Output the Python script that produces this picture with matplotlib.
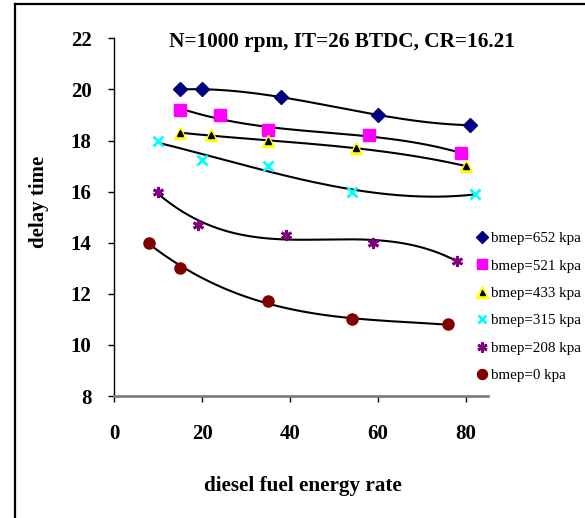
import numpy as np
import matplotlib
matplotlib.use('Agg')
import matplotlib.pyplot as plt
from matplotlib.lines import Line2D

plt.rcParams['font.family'] = ['Liberation Serif', 'DejaVu Serif']

# data
x652 = [15, 20, 38, 60, 81]
y652 = [20.0, 20.0, 19.7, 19.0, 18.6]
x521 = [15, 24, 35, 58, 79]
y521 = [19.2, 19.0, 18.4, 18.2, 17.5]
x433 = [15, 22, 35, 55, 80]
y433 = [18.3, 18.2, 18.0, 17.7, 17.0]
x315 = [10, 20, 35, 54, 82]
y315 = [18.0, 17.25, 17.0, 16.0, 15.9]
x208 = [10, 19, 39, 59, 78]
y208 = [16.0, 14.7, 14.3, 14.0, 13.3]
x0 = [8, 15, 35, 54, 76]
y0 = [14.0, 13.0, 11.7, 11.0, 10.8]

labels = ['bmep=652 kpa', 'bmep=521 kpa', 'bmep=433 kpa',
          'bmep=315 kpa', 'bmep=208 kpa', 'bmep=0 kpa']
xticks = [0, 20, 40, 60, 80]
yticks = [8, 10, 12, 14, 16, 18, 20, 22]

W, H = 585, 518
fig = plt.figure(figsize=(W / 100, H / 100), dpi=100)
ax = fig.add_axes([114.3 / W, 1 - 396 / H, (487.7 - 114.3) / W, (396 - 38.3) / H])

series = [(x652, y652), (x521, y521), (x433, y433), (x315, y315), (x208, y208), (x0, y0)]

# cubic trendlines like excel
for xs, ys in series:
    c = np.polyfit(xs, ys, 3)
    xx = np.linspace(min(xs), max(xs), 200)
    ax.plot(xx, np.polyval(c, xx), color='black', lw=1.5, zorder=2)

h1, = ax.plot(x652, y652, ls='none', marker='D', ms=7, color='#000080', zorder=3)
h2, = ax.plot(x521, y521, ls='none', marker='s', ms=8, color='#ff00ff', zorder=3)
h3a, = ax.plot(x433, y433, ls='none', marker='^', ms=9, color='#ffff00', zorder=3)
h3b, = ax.plot(x433, y433, ls='none', marker='^', ms=4, color='black', zorder=4)
h4, = ax.plot(x315, y315, ls='none', marker='x', ms=7, mew=2, color='#00ffff', zorder=3)
h5, = ax.plot(x208, y208, ls='none', marker=(6, 2, 0), ms=8, mew=2, color='#800080', zorder=3)
h6, = ax.plot(x0, y0, ls='none', marker='o', ms=8, color='#800000', zorder=3)

ax.set_xlim(0, 85)
ax.set_ylim(8, 22)
ax.set_xticks(xticks)
ax.set_yticks(yticks)
for s in ['top', 'right']:
    ax.spines[s].set_visible(False)
ax.spines['left'].set_color('black')
ax.spines['left'].set_linewidth(1)
ax.spines['bottom'].set_color('#808080')
ax.spines['bottom'].set_linewidth(2)
ax.tick_params(axis='y', direction='out', length=4, width=1, pad=12.5, labelsize=15)
ax.tick_params(axis='x', direction='out', length=4, width=1, pad=16, labelsize=15)
for t in ax.get_xticklabels() + ax.get_yticklabels():
    t.set_fontweight('bold')

fig.text(342 / W, 1 - 41.7 / H, 'N=1000 rpm, IT=26 BTDC, CR=16.21',
         ha='center', va='center', fontsize=15.3, fontweight='bold')
fig.text(302.5 / W, 1 - 486 / H, 'diesel fuel energy rate',
         ha='center', va='center', fontsize=15.2, fontweight='bold')
fig.text(39 / W, 1 - 202 / H, 'delay time', rotation=90,
         ha='center', va='center', fontsize=15, fontweight='bold')

fig.legend([h1, h2, (h3a, h3b), h4, h5, h6], labels,
           loc='center left', bbox_to_anchor=(466 / W, 1 - 307 / H),
           frameon=False, fontsize=10.8, handlelength=1.2, handletextpad=0.0,
           borderpad=0, labelspacing=0.93, numpoints=1, markerscale=0.9)

# outer frame (only left and top visible)
fig.add_artist(Line2D([15 / W, 15 / W], [0, 1 - 4 / H], color='black', lw=1.6))
fig.add_artist(Line2D([15 / W, 1], [1 - 4 / H, 1 - 4 / H], color='black', lw=1.6))

fig.savefig('out.png', dpi=100)
